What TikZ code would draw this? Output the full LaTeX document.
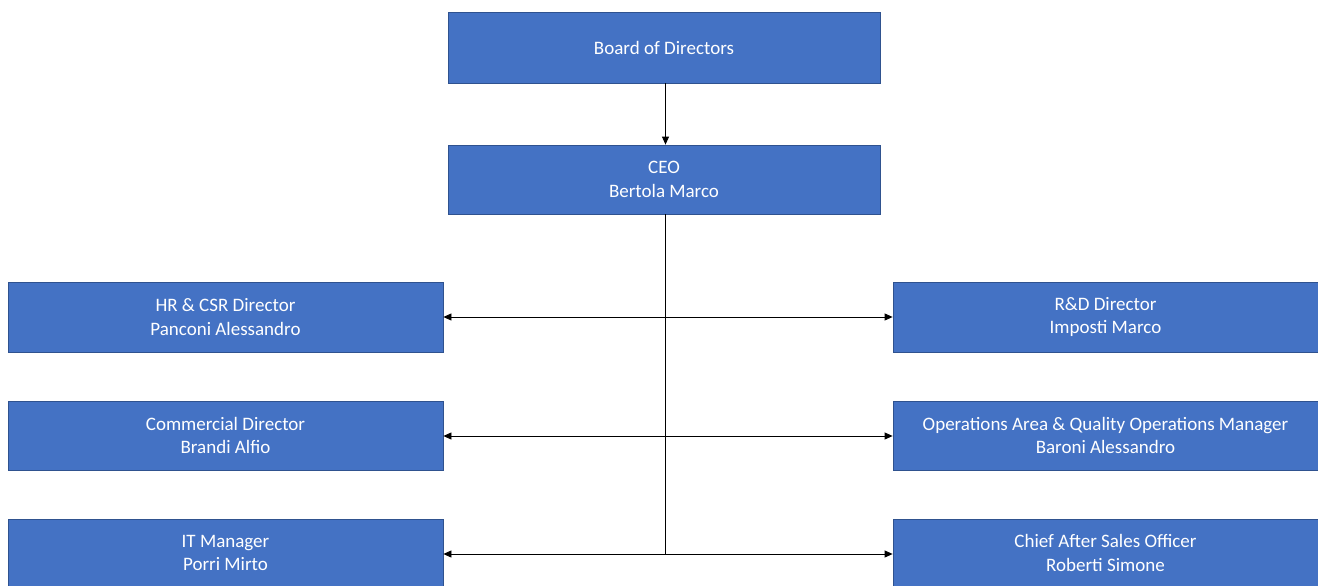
\documentclass[tikz,border=0pt]{standalone}
\usepackage{fontspec}
\setmainfont{Carlito}
\usetikzlibrary{arrows.meta}
\definecolor{boxblue}{HTML}{4472C4}
\definecolor{boxedge}{HTML}{2F528F}
\begin{document}
\begin{tikzpicture}[x=1pt,y=-1pt,
  box/.style={draw=boxedge,line width=0.8pt,fill=boxblue,text=white,align=center,
    font=\fontsize{19}{23.5}\selectfont,inner sep=0pt},
  conn/.style={line width=0.8pt,-{Triangle[length=8pt,width=7pt]}},
  plain/.style={line width=0.8pt}]
\useasboundingbox (0,0) rectangle (1318,586);
\node[box,minimum width=432pt,minimum height=71pt] (board) at (664,47.5) {Board of Directors};
\node[box,minimum width=432pt,minimum height=69pt] (ceo) at (664,179.5) {CEO\\Bertola Marco};
\node[box,minimum width=435pt,minimum height=70pt] (hr) at (225.5,317) {HR \& CSR Director\\Panconi Alessandro};
\node[box,minimum width=425pt,minimum height=70pt] (rd) at (1105.5,317) {R\&D Director\\Imposti Marco};
\node[box,minimum width=435pt,minimum height=69pt] (com) at (225.5,435.5) {Commercial Director\\Brandi Alfio};
\node[box,minimum width=425pt,minimum height=69pt] (ops) at (1105.5,435.5) {Operations Area \& Quality Operations Manager\\Baroni Alessandro};
\node[box,minimum width=435pt,minimum height=68pt] (it) at (225.5,553) {IT Manager\\Porri Mirto};
\node[box,minimum width=425pt,minimum height=68pt] (cas) at (1105.5,553) {Chief After Sales Officer\\Roberti Simone};
\coordinate (j1) at (665.5,317);
\coordinate (j2) at (665.5,436);
\coordinate (j3) at (665.5,554);
\draw[conn] (board.south -| j1) -- (ceo.north -| j1);
\draw[plain] (ceo.south -| j1) -- (j3);
\draw[conn] (j1) -- (hr.east |- j1);
\draw[conn] (j1) -- (rd.west |- j1);
\draw[conn] (j2) -- (com.east |- j2);
\draw[conn] (j2) -- (ops.west |- j2);
\draw[conn] (j3) -- (it.east |- j3);
\draw[conn] (j3) -- (cas.west |- j3);
\end{tikzpicture}
\end{document}
